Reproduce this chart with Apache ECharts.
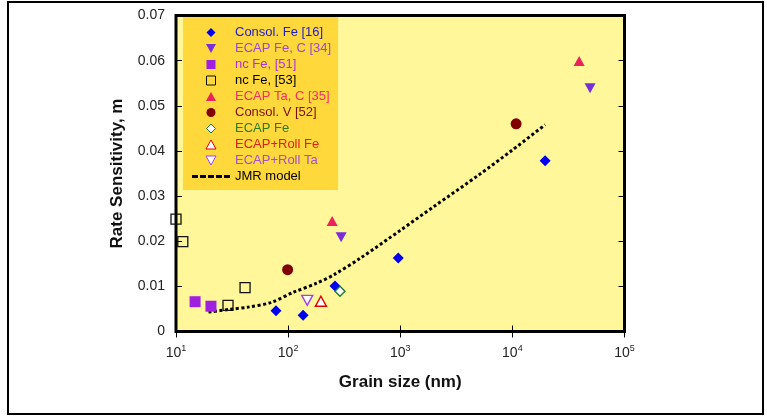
<!DOCTYPE html>
<html>
<head>
<meta charset="utf-8">
<script src="https://cdn.jsdelivr.net/npm/echarts@6/dist/echarts.min.js"></script>
<style>
  html, body { margin: 0; padding: 0; background: #fff; }
  #chart { width: 767px; height: 416px; }
</style>
</head>
<body>
<div id="chart"></div>
<script>
// grain size (nm), rate sensitivity m
var consolFe = [[78, 0.0046], [136, 0.0036], [262, 0.0101], [960, 0.0163], [19600, 0.0378]];
var ecapFeC = [[297, 0.0209], [49300, 0.0539]];
var ncFe51 = [[14.8, 0.0066], [20.5, 0.0056]];
var ncFe53 = [[10, 0.0249], [11.5, 0.0199], [41.3, 0.0097], [29.1, 0.0058]];
var ecapTaC = [[247, 0.0245], [39400, 0.0599]];
var consolV = [[99, 0.0137], [10800, 0.0460]];
var ecapFe = [[290, 0.0089]];
var ecapRollFe = [[196, 0.0067]];
var ecapRollTa = [[148, 0.0069]];
var jmrModel = [[19.5, 0.0043], [30, 0.0049], [44, 0.0054], [70, 0.0064], [112, 0.0087],
                [180, 0.0107], [257, 0.0126], [444, 0.0163], [1000, 0.0224], [2000, 0.0277],
                [5100, 0.0348], [10000, 0.0402], [19600, 0.0458]];

var xTicks = [10, 100, 1000, 10000, 100000];
var yTicks = [0, 0.01, 0.02, 0.03, 0.04, 0.05, 0.06, 0.07];

// marker shapes
var DIAMOND = 'path://M5,0 L10,5 L5,10 L0,5 Z';
var SQUARE = 'path://M0,0 L10,0 L10,10 L0,10 Z';
var TRI_UP = 'path://M5,0 L10,9 L0,9 Z';
var TRI_DOWN = 'path://M0,0 L10,0 L5,9 Z';
var CIRCLE = 'path://M0,5 A5,5 0 1,0 10,5 A5,5 0 1,0 0,5 Z';
var DASHES = 'path://M0,0 L6,0 L6,3 L0,3 Z M8,0 L14,0 L14,3 L8,3 Z M16,0 L22,0 L22,3 L16,3 Z M24,0 L30,0 L30,3 L24,3 Z M32,0 L38,0 L38,3 L32,3 Z';
var FONT = 'Liberation Sans, Arial, sans-serif';

var chart = echarts.init(document.getElementById('chart'));

function scatter(name, data, symbol, size, fill, stroke, bw) {
    return {
        name: name,
        type: 'scatter',
        data: data,
        symbol: symbol,
        symbolSize: size,
        z: 3,
        itemStyle: { color: fill, borderColor: stroke, borderWidth: bw, opacity: 1 }
    };
}

var option = {
    animation: false,
    backgroundColor: '#ffffff',
    graphic: [{
        type: 'rect',
        shape: { x: 8, y: 2, width: 755, height: 412 },
        style: { fill: 'none', stroke: '#000', lineWidth: 2 },
        z: -1
    }],
    grid: {
        left: 176, right: 142.5, top: 15.5, bottom: 84.5,
        show: true,
        backgroundColor: '#fff799',
        borderColor: '#000',
        borderWidth: 3
    },
    legend: {
        orient: 'vertical',
        left: 183,
        top: 17,
        padding: [9, 7, 7, 9],
        backgroundColor: '#ffd83c',
        itemWidth: 38,
        itemHeight: 9,
        itemGap: 3,
        textStyle: { fontFamily: FONT, fontSize: 13 },
        data: [
            { name: 'Consol. Fe [16]', icon: DIAMOND, textStyle: { color: '#2020c8' } },
            { name: 'ECAP Fe, C [34]', icon: TRI_DOWN, textStyle: { color: '#9a4ad0' } },
            { name: 'nc Fe, [51]', icon: SQUARE, textStyle: { color: '#b030d8' } },
            { name: 'nc Fe, [53]', icon: SQUARE, textStyle: { color: '#000000' },
              itemStyle: { borderWidth: 1 } },
            { name: 'ECAP Ta, C [35]', icon: TRI_UP, textStyle: { color: '#f03060' } },
            { name: 'Consol. V [52]', icon: CIRCLE, textStyle: { color: '#7a1010' } },
            { name: 'ECAP Fe', icon: DIAMOND, textStyle: { color: '#2f7a1a' },
              itemStyle: { borderWidth: 1 } },
            { name: 'ECAP+Roll Fe', icon: TRI_UP, textStyle: { color: '#e02010' },
              itemStyle: { borderWidth: 1 } },
            { name: 'ECAP+Roll Ta', icon: TRI_DOWN, textStyle: { color: '#a050d0' },
              itemStyle: { borderWidth: 1 } },
            { name: 'JMR model', icon: DASHES, textStyle: { color: '#000000' },
              itemStyle: { color: '#000', borderWidth: 0 } }
        ]
    },
    xAxis: [{
        type: 'log',
        logBase: 10,
        min: xTicks[0],
        max: xTicks[xTicks.length - 1],
        position: 'bottom',
        axisLine: { show: false },
        axisTick: { show: true, inside: true, length: 6, lineStyle: { color: '#000', width: 1 } },
        splitLine: { show: false },
        axisLabel: {
            margin: 13,
            color: '#222',
            fontFamily: FONT,
            formatter: function (v) {
                return '{b|10}{s|' + Math.round(Math.log10(v)) + '}';
            },
            rich: {
                b: { fontSize: 14, fontFamily: FONT, color: '#222' },
                s: { fontSize: 9, fontFamily: FONT, color: '#222', padding: [0, 0, 9, 0] }
            }
        },
        name: 'Grain size (nm)',
        nameLocation: 'middle',
        nameGap: 42,
        nameTextStyle: { fontFamily: FONT, fontSize: 17, fontWeight: 'bold', color: '#111' }
    }, {
        type: 'log',
        logBase: 10,
        min: xTicks[0],
        max: xTicks[xTicks.length - 1],
        position: 'top',
        axisLine: { show: false },
        axisTick: { show: true, inside: true, length: 6, lineStyle: { color: '#000', width: 1 } },
        splitLine: { show: false },
        axisLabel: { show: false }
    }],
    yAxis: [{
        type: 'value',
        min: yTicks[0],
        max: yTicks[yTicks.length - 1],
        interval: 0.01,
        position: 'left',
        axisLine: { show: false },
        axisTick: { show: true, inside: true, length: 6, lineStyle: { color: '#000', width: 1 } },
        splitLine: { show: false },
        axisLabel: { margin: 11, fontSize: 14, color: '#222', fontFamily: FONT },
        name: 'Rate Sensitivity, m',
        nameLocation: 'middle',
        nameGap: 50,
        nameTextStyle: { fontFamily: FONT, fontSize: 17, fontWeight: 'bold', color: '#111' }
    }, {
        type: 'value',
        min: yTicks[0],
        max: yTicks[yTicks.length - 1],
        interval: 0.01,
        position: 'right',
        axisLine: { show: false },
        axisTick: { show: true, inside: true, length: 6, lineStyle: { color: '#000', width: 1 } },
        splitLine: { show: false },
        axisLabel: { show: false }
    }],
    series: [
        {
            name: 'JMR model',
            type: 'line',
            data: jmrModel,
            smooth: 0.3,
            symbol: 'none',
            z: 2,
            itemStyle: { color: '#000' },
            lineStyle: { type: [3, 2.5], width: 3, color: '#000', cap: 'butt' }
        },
        scatter('Consol. Fe [16]', consolFe, DIAMOND, 11, '#0000ee', '#0000ee', 0),
        scatter('ECAP Fe, C [34]', ecapFeC, TRI_DOWN, [11, 10], '#7a2ed8', '#7a2ed8', 0),
        scatter('nc Fe, [51]', ncFe51, SQUARE, 11, '#a020e0', '#a020e0', 0),
        scatter('nc Fe, [53]', ncFe53, SQUARE, 10, 'rgba(0,0,0,0)', '#111', 1.3),
        scatter('ECAP Ta, C [35]', ecapTaC, TRI_UP, [11, 10], '#e8245a', '#e8245a', 0),
        scatter('Consol. V [52]', consolV, CIRCLE, 11, '#800000', '#800000', 0),
        scatter('ECAP Fe', ecapFe, DIAMOND, 10, '#ffffff', '#1a7a30', 1.4),
        scatter('ECAP+Roll Fe', ecapRollFe, TRI_UP, [11, 10], '#ffffff', '#e00000', 1.4),
        scatter('ECAP+Roll Ta', ecapRollTa, TRI_DOWN, [11, 10], '#ffffff', '#a040f0', 1.4)
    ]
};

chart.setOption(option);
</script>
</body>
</html>
